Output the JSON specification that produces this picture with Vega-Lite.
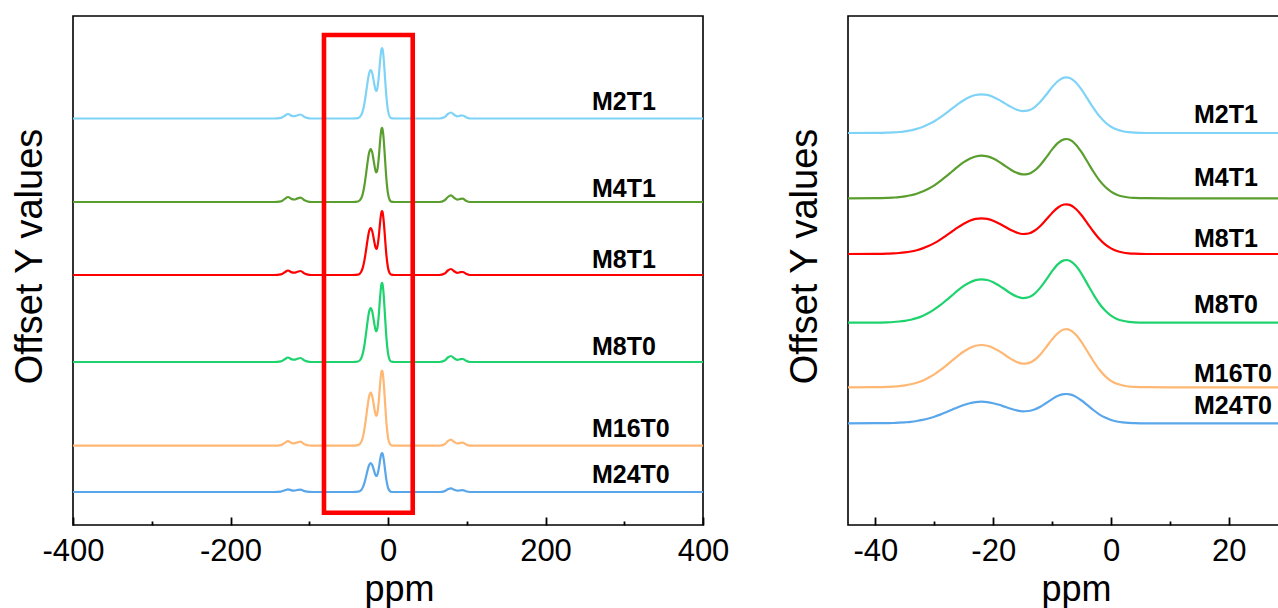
{
  "$schema": "https://vega.github.io/schema/vega-lite/v6.json",
  "background": "white",
  "padding": {"left": 10, "top": 15, "right": 0, "bottom": 0},
  "spacing": 145,
  "bounds": "flush",
  "config": {
    "font": "Liberation Sans",
    "view": {"stroke": "#000000", "strokeWidth": 1.6},
    "axis": {"labelColor": "#000000", "titleColor": "#000000", "tickColor": "#000000", "domain": false, "grid": false}
  },
  "datasets": {
    "left": [
      {"ppm": -400, "M2T1": 406.5, "M4T1": 323, "M8T1": 250, "M8T0": 163, "M16T0": 79.3, "M24T0": 33},
      {"ppm": -145, "M2T1": 406.5, "M4T1": 323, "M8T1": 250, "M8T0": 163, "M16T0": 79.3, "M24T0": 33},
      {"ppm": -136, "M2T1": 407.1, "M4T1": 323.7, "M8T1": 250.6, "M8T0": 163.6, "M16T0": 79.9, "M24T0": 33.4},
      {"ppm": -131, "M2T1": 409.3, "M4T1": 326.1, "M8T1": 252.8, "M8T0": 165.8, "M16T0": 82.1, "M24T0": 34.7},
      {"ppm": -127, "M2T1": 411, "M4T1": 328, "M8T1": 254.5, "M8T0": 167.5, "M16T0": 83.8, "M24T0": 35.7},
      {"ppm": -122, "M2T1": 409.1, "M4T1": 325.9, "M8T1": 252.6, "M8T0": 165.6, "M16T0": 81.9, "M24T0": 34.6},
      {"ppm": -119, "M2T1": 408.8, "M4T1": 325.5, "M8T1": 252.3, "M8T0": 165.3, "M16T0": 81.6, "M24T0": 34.4},
      {"ppm": -115, "M2T1": 409.8, "M4T1": 326.6, "M8T1": 253.3, "M8T0": 166.3, "M16T0": 82.6, "M24T0": 35},
      {"ppm": -111, "M2T1": 410.5, "M4T1": 327.4, "M8T1": 254, "M8T0": 167, "M16T0": 83.3, "M24T0": 35.4},
      {"ppm": -106, "M2T1": 408, "M4T1": 324.7, "M8T1": 251.5, "M8T0": 164.5, "M16T0": 80.8, "M24T0": 33.9},
      {"ppm": -100, "M2T1": 406.7, "M4T1": 323.2, "M8T1": 250.2, "M8T0": 163.2, "M16T0": 79.5, "M24T0": 33.1},
      {"ppm": -95, "M2T1": 406.5, "M4T1": 323, "M8T1": 250, "M8T0": 163, "M16T0": 79.3, "M24T0": 33},
      {"ppm": -45, "M2T1": 406.5, "M4T1": 323, "M8T1": 250, "M8T0": 163, "M16T0": 79.3, "M24T0": 33},
      {"ppm": -38, "M2T1": 406.9, "M4T1": 323.5, "M8T1": 250.4, "M8T0": 163.5, "M16T0": 79.8, "M24T0": 33.3},
      {"ppm": -34, "M2T1": 409.9, "M4T1": 326.7, "M8T1": 253.3, "M8T0": 166.8, "M16T0": 83, "M24T0": 35},
      {"ppm": -32, "M2T1": 414.1, "M4T1": 331.3, "M8T1": 257.4, "M8T0": 171.5, "M16T0": 87.6, "M24T0": 37.6},
      {"ppm": -30, "M2T1": 421.3, "M4T1": 339.2, "M8T1": 264.4, "M8T0": 179.5, "M16T0": 95.5, "M24T0": 41.9},
      {"ppm": -28, "M2T1": 431.4, "M4T1": 350.2, "M8T1": 274.2, "M8T0": 190.8, "M16T0": 106.5, "M24T0": 47.9},
      {"ppm": -26, "M2T1": 442.6, "M4T1": 362.4, "M8T1": 285, "M8T0": 203.2, "M16T0": 118.7, "M24T0": 54.6},
      {"ppm": -24, "M2T1": 451.6, "M4T1": 372.2, "M8T1": 293.7, "M8T0": 213.2, "M16T0": 128.5, "M24T0": 59.9},
      {"ppm": -22, "M2T1": 455, "M4T1": 376, "M8T1": 297, "M8T0": 217, "M16T0": 132.3, "M24T0": 62},
      {"ppm": -20, "M2T1": 451.7, "M4T1": 372.4, "M8T1": 293.8, "M8T0": 213.4, "M16T0": 128.7, "M24T0": 60},
      {"ppm": -18, "M2T1": 443.6, "M4T1": 363.5, "M8T1": 285.9, "M8T0": 204.3, "M16T0": 119.8, "M24T0": 55.1},
      {"ppm": -16, "M2T1": 435.7, "M4T1": 354.7, "M8T1": 278, "M8T0": 195.6, "M16T0": 111.1, "M24T0": 50.3},
      {"ppm": -15, "M2T1": 434, "M4T1": 352.7, "M8T1": 276.2, "M8T0": 193.7, "M16T0": 109.2, "M24T0": 49.1},
      {"ppm": -14, "M2T1": 435, "M4T1": 353.5, "M8T1": 276.7, "M8T0": 194.8, "M16T0": 110, "M24T0": 49.4},
      {"ppm": -12, "M2T1": 445.9, "M4T1": 364.8, "M8T1": 286.2, "M8T0": 207.2, "M16T0": 121.5, "M24T0": 55.1},
      {"ppm": -10, "M2T1": 464.5, "M4T1": 384.1, "M8T1": 302.8, "M8T0": 228.1, "M16T0": 141.2, "M24T0": 65.2},
      {"ppm": -9, "M2T1": 472.4, "M4T1": 392.3, "M8T1": 309.8, "M8T0": 236.9, "M16T0": 149.5, "M24T0": 69.5},
      {"ppm": -8, "M2T1": 476.6, "M4T1": 396.7, "M8T1": 313.6, "M8T0": 241.7, "M16T0": 154, "M24T0": 71.8},
      {"ppm": -7.5, "M2T1": 477, "M4T1": 397.1, "M8T1": 314, "M8T0": 242.1, "M16T0": 154.4, "M24T0": 72},
      {"ppm": -7, "M2T1": 476.1, "M4T1": 396.1, "M8T1": 313.1, "M8T0": 241.1, "M16T0": 153.4, "M24T0": 71.5},
      {"ppm": -6, "M2T1": 470.7, "M4T1": 390.4, "M8T1": 308.2, "M8T0": 235, "M16T0": 147.6, "M24T0": 68.5},
      {"ppm": -5, "M2T1": 461.4, "M4T1": 380.6, "M8T1": 299.7, "M8T0": 224.6, "M16T0": 137.7, "M24T0": 63.3},
      {"ppm": -4, "M2T1": 449.9, "M4T1": 368.6, "M8T1": 289.4, "M8T0": 211.7, "M16T0": 125.5, "M24T0": 57},
      {"ppm": -2, "M2T1": 428.1, "M4T1": 345.7, "M8T1": 269.6, "M8T0": 187.3, "M16T0": 102.3, "M24T0": 44.9},
      {"ppm": 0, "M2T1": 414.4, "M4T1": 331.3, "M8T1": 257.2, "M8T0": 171.9, "M16T0": 87.7, "M24T0": 37.4},
      {"ppm": 2, "M2T1": 408.6, "M4T1": 325.2, "M8T1": 251.9, "M8T0": 165.4, "M16T0": 81.6, "M24T0": 34.2},
      {"ppm": 4, "M2T1": 406.9, "M4T1": 323.4, "M8T1": 250.4, "M8T0": 163.5, "M16T0": 79.8, "M24T0": 33.2},
      {"ppm": 8, "M2T1": 406.5, "M4T1": 323, "M8T1": 250, "M8T0": 163, "M16T0": 79.3, "M24T0": 33},
      {"ppm": 65, "M2T1": 406.5, "M4T1": 323, "M8T1": 250, "M8T0": 163, "M16T0": 79.3, "M24T0": 33},
      {"ppm": 72, "M2T1": 408, "M4T1": 324.7, "M8T1": 251.5, "M8T0": 164.5, "M16T0": 80.8, "M24T0": 33.9},
      {"ppm": 76, "M2T1": 411, "M4T1": 328, "M8T1": 254.5, "M8T0": 167.5, "M16T0": 83.8, "M24T0": 35.7},
      {"ppm": 80, "M2T1": 412.5, "M4T1": 329.6, "M8T1": 256, "M8T0": 169, "M16T0": 85.3, "M24T0": 36.6},
      {"ppm": 84, "M2T1": 410.3, "M4T1": 327.2, "M8T1": 253.8, "M8T0": 166.8, "M16T0": 83.1, "M24T0": 35.3},
      {"ppm": 88, "M2T1": 408.7, "M4T1": 325.4, "M8T1": 252.2, "M8T0": 165.2, "M16T0": 81.5, "M24T0": 34.3},
      {"ppm": 92, "M2T1": 409.3, "M4T1": 326.1, "M8T1": 252.8, "M8T0": 165.8, "M16T0": 82.1, "M24T0": 34.7},
      {"ppm": 95, "M2T1": 409.5, "M4T1": 326.3, "M8T1": 253, "M8T0": 166, "M16T0": 82.3, "M24T0": 34.8},
      {"ppm": 99, "M2T1": 407.7, "M4T1": 324.3, "M8T1": 251.2, "M8T0": 164.2, "M16T0": 80.5, "M24T0": 33.7},
      {"ppm": 104, "M2T1": 406.5, "M4T1": 323, "M8T1": 250, "M8T0": 163, "M16T0": 79.3, "M24T0": 33},
      {"ppm": 400, "M2T1": 406.5, "M4T1": 323, "M8T1": 250, "M8T0": 163, "M16T0": 79.3, "M24T0": 33}
    ],
    "right": [
      {"ppm": -46, "M2T1": 392, "M4T1": 326.7, "M8T1": 271, "M8T0": 202.3, "M16T0": 137.7, "M24T0": 101.7},
      {"ppm": -40, "M2T1": 392.1, "M4T1": 326.8, "M8T1": 271.1, "M8T0": 202.4, "M16T0": 137.8, "M24T0": 101.8},
      {"ppm": -38, "M2T1": 392.3, "M4T1": 327.1, "M8T1": 271.3, "M8T0": 202.7, "M16T0": 138.1, "M24T0": 101.9},
      {"ppm": -37, "M2T1": 392.6, "M4T1": 327.4, "M8T1": 271.6, "M8T0": 203, "M16T0": 138.4, "M24T0": 102},
      {"ppm": -36, "M2T1": 393, "M4T1": 327.8, "M8T1": 272, "M8T0": 203.5, "M16T0": 138.8, "M24T0": 102.3},
      {"ppm": -35, "M2T1": 393.7, "M4T1": 328.6, "M8T1": 272.6, "M8T0": 204.2, "M16T0": 139.6, "M24T0": 102.7},
      {"ppm": -34, "M2T1": 394.7, "M4T1": 329.7, "M8T1": 273.5, "M8T0": 205.3, "M16T0": 140.7, "M24T0": 103.2},
      {"ppm": -33, "M2T1": 396.1, "M4T1": 331.3, "M8T1": 274.8, "M8T0": 206.9, "M16T0": 142.2, "M24T0": 104},
      {"ppm": -32, "M2T1": 398.1, "M4T1": 333.4, "M8T1": 276.6, "M8T0": 209.1, "M16T0": 144.3, "M24T0": 105.1},
      {"ppm": -31, "M2T1": 400.7, "M4T1": 336.2, "M8T1": 279, "M8T0": 212, "M16T0": 147.2, "M24T0": 106.5},
      {"ppm": -30, "M2T1": 403.8, "M4T1": 339.7, "M8T1": 281.9, "M8T0": 215.6, "M16T0": 150.6, "M24T0": 108.3},
      {"ppm": -29, "M2T1": 407.6, "M4T1": 343.9, "M8T1": 285.4, "M8T0": 219.8, "M16T0": 154.8, "M24T0": 110.4},
      {"ppm": -28, "M2T1": 411.9, "M4T1": 348.6, "M8T1": 289.4, "M8T0": 224.6, "M16T0": 159.4, "M24T0": 112.8},
      {"ppm": -27, "M2T1": 416.4, "M4T1": 353.5, "M8T1": 293.5, "M8T0": 229.6, "M16T0": 164.4, "M24T0": 115.3},
      {"ppm": -26, "M2T1": 420.8, "M4T1": 358.4, "M8T1": 297.6, "M8T0": 234.6, "M16T0": 169.2, "M24T0": 117.8},
      {"ppm": -25, "M2T1": 424.8, "M4T1": 362.8, "M8T1": 301.2, "M8T0": 239.1, "M16T0": 173.5, "M24T0": 120},
      {"ppm": -24, "M2T1": 428, "M4T1": 366.3, "M8T1": 304.2, "M8T0": 242.6, "M16T0": 177, "M24T0": 121.8},
      {"ppm": -23, "M2T1": 430, "M4T1": 368.5, "M8T1": 306.1, "M8T0": 244.9, "M16T0": 179.2, "M24T0": 122.9},
      {"ppm": -22, "M2T1": 430.7, "M4T1": 369.3, "M8T1": 306.7, "M8T0": 245.7, "M16T0": 180, "M24T0": 123.3},
      {"ppm": -21, "M2T1": 430.1, "M4T1": 368.6, "M8T1": 306.1, "M8T0": 245, "M16T0": 179.3, "M24T0": 122.9},
      {"ppm": -20, "M2T1": 428.1, "M4T1": 366.4, "M8T1": 304.3, "M8T0": 242.8, "M16T0": 177.1, "M24T0": 121.8},
      {"ppm": -19, "M2T1": 425.1, "M4T1": 363.1, "M8T1": 301.5, "M8T0": 239.4, "M16T0": 173.9, "M24T0": 120.2},
      {"ppm": -18, "M2T1": 421.6, "M4T1": 359.2, "M8T1": 298.3, "M8T0": 235.5, "M16T0": 170, "M24T0": 118.2},
      {"ppm": -17, "M2T1": 418.1, "M4T1": 355.3, "M8T1": 295, "M8T0": 231.5, "M16T0": 166.1, "M24T0": 116.2},
      {"ppm": -16, "M2T1": 415.3, "M4T1": 352.2, "M8T1": 292.4, "M8T0": 228.4, "M16T0": 163, "M24T0": 114.6},
      {"ppm": -15, "M2T1": 413.9, "M4T1": 350.6, "M8T1": 291, "M8T0": 226.9, "M16T0": 161.3, "M24T0": 113.7},
      {"ppm": -14, "M2T1": 414.6, "M4T1": 351.2, "M8T1": 291.5, "M8T0": 227.7, "M16T0": 161.9, "M24T0": 114},
      {"ppm": -13, "M2T1": 417.7, "M4T1": 354.4, "M8T1": 294.2, "M8T0": 231.2, "M16T0": 165, "M24T0": 115.5},
      {"ppm": -12, "M2T1": 423.2, "M4T1": 360.1, "M8T1": 299, "M8T0": 237.4, "M16T0": 170.5, "M24T0": 118.3},
      {"ppm": -11, "M2T1": 430.3, "M4T1": 367.6, "M8T1": 305.4, "M8T0": 245.4, "M16T0": 177.9, "M24T0": 122},
      {"ppm": -10, "M2T1": 437.9, "M4T1": 375.6, "M8T1": 312, "M8T0": 253.9, "M16T0": 185.6, "M24T0": 125.9},
      {"ppm": -9, "M2T1": 444, "M4T1": 382.1, "M8T1": 317.5, "M8T0": 260.9, "M16T0": 192, "M24T0": 129.2},
      {"ppm": -8, "M2T1": 447.4, "M4T1": 385.7, "M8T1": 320.5, "M8T0": 264.6, "M16T0": 195.5, "M24T0": 130.9},
      {"ppm": -7.5, "M2T1": 447.7, "M4T1": 386, "M8T1": 320.7, "M8T0": 265, "M16T0": 195.8, "M24T0": 131},
      {"ppm": -7, "M2T1": 447, "M4T1": 385.2, "M8T1": 320.1, "M8T0": 264.2, "M16T0": 195, "M24T0": 130.7},
      {"ppm": -6, "M2T1": 442.7, "M4T1": 380.6, "M8T1": 316.2, "M8T0": 259.4, "M16T0": 190.5, "M24T0": 128.4},
      {"ppm": -5, "M2T1": 435.3, "M4T1": 372.8, "M8T1": 309.7, "M8T0": 251.1, "M16T0": 182.9, "M24T0": 124.5},
      {"ppm": -4, "M2T1": 426.3, "M4T1": 363.2, "M8T1": 301.6, "M8T0": 240.9, "M16T0": 173.5, "M24T0": 119.8},
      {"ppm": -3, "M2T1": 417.2, "M4T1": 353.5, "M8T1": 293.5, "M8T0": 230.7, "M16T0": 164, "M24T0": 115},
      {"ppm": -2, "M2T1": 409.1, "M4T1": 344.9, "M8T1": 286.2, "M8T0": 221.5, "M16T0": 155.5, "M24T0": 110.7},
      {"ppm": -1, "M2T1": 402.8, "M4T1": 338.2, "M8T1": 280.6, "M8T0": 214.4, "M16T0": 148.9, "M24T0": 107.4},
      {"ppm": 0, "M2T1": 398.3, "M4T1": 333.4, "M8T1": 276.6, "M8T0": 209.4, "M16T0": 144.2, "M24T0": 105},
      {"ppm": 1, "M2T1": 395.4, "M4T1": 330.3, "M8T1": 274, "M8T0": 206.1, "M16T0": 141.2, "M24T0": 103.5},
      {"ppm": 2, "M2T1": 393.7, "M4T1": 328.5, "M8T1": 272.5, "M8T0": 204.2, "M16T0": 139.5, "M24T0": 102.6},
      {"ppm": 3, "M2T1": 392.8, "M4T1": 327.5, "M8T1": 271.7, "M8T0": 203.2, "M16T0": 138.5, "M24T0": 102.1},
      {"ppm": 4, "M2T1": 392.3, "M4T1": 327.1, "M8T1": 271.3, "M8T0": 202.7, "M16T0": 138.1, "M24T0": 101.9},
      {"ppm": 6, "M2T1": 392, "M4T1": 326.8, "M8T1": 271, "M8T0": 202.4, "M16T0": 137.8, "M24T0": 101.7},
      {"ppm": 10, "M2T1": 392, "M4T1": 326.7, "M8T1": 271, "M8T0": 202.3, "M16T0": 137.7, "M24T0": 101.7},
      {"ppm": 36, "M2T1": 392, "M4T1": 326.7, "M8T1": 271, "M8T0": 202.3, "M16T0": 137.7, "M24T0": 101.7}
    ],
    "labelsLeft": [
      {"label": "M2T1", "ppm": 259, "value": 415},
      {"label": "M4T1", "ppm": 259, "value": 328.3},
      {"label": "M8T1", "ppm": 259, "value": 257},
      {"label": "M8T0", "ppm": 259, "value": 170},
      {"label": "M16T0", "ppm": 259, "value": 88.3},
      {"label": "M24T0", "ppm": 259, "value": 41.7}
    ],
    "labelsRight": [
      {"label": "M2T1", "ppm": 14.1, "value": 402},
      {"label": "M4T1", "ppm": 14.1, "value": 339},
      {"label": "M8T1", "ppm": 14.1, "value": 278},
      {"label": "M8T0", "ppm": 14.1, "value": 212},
      {"label": "M16T0", "ppm": 14.1, "value": 143.3},
      {"label": "M24T0", "ppm": 14.1, "value": 110.7}
    ],
    "box": [
      {"ppm": -81.3, "ppm2": 31.4, "value": 12.2, "value2": 490}
    ]
  },
  "hconcat": [
    {
      "width": 630,
      "height": 509,
      "encoding": {
        "x": {"field": "ppm", "type": "quantitative", "title": "ppm",
          "scale": {"domain": [-400, 400], "nice": false, "zero": false},
          "axis": {"values": [-400, -300, -200, -100, 0, 100, 200, 300, 400],
            "tickSize": {"condition": {"test": "datum.value % 200 === 0", "value": -8}, "value": -4},
            "tickWidth": 1.8,
            "labelExpr": "datum.value % 200 === 0 ? toString(datum.value) : ''",
            "labelFontSize": 31, "labelPadding": 19, "labelFlush": false, "labelOverlap": false, "labelBound": false,
            "titleFontSize": 36, "titleFontWeight": "normal", "titlePadding": 2, "titleX": 326}},
        "y": {"field": "value", "type": "quantitative", "title": "Offset Y values",
          "scale": {"domain": [0, 509], "nice": false, "zero": false},
          "axis": {"labels": false, "ticks": false, "domain": false, "titleFontSize": 38, "titleFontWeight": "normal", "titlePadding": 24, "titleY": 240}}
      },
      "layer": [
        {
          "data": {"name": "left"},
          "transform": [{"fold": ["M2T1", "M4T1", "M8T1", "M8T0", "M16T0", "M24T0"], "as": ["series", "value"]}],
          "mark": {"type": "line", "strokeWidth": 2.2, "interpolate": "monotone", "clip": true},
          "encoding": {
            "color": {"field": "series", "type": "nominal",
              "scale": {"domain": ["M2T1", "M4T1", "M8T1", "M8T0", "M16T0", "M24T0"], "range": ["#7fd3f7", "#5a9e2f", "#ff0000", "#1ed36e", "#ffb774", "#5aa6ea"]},
              "legend": null}
          }
        },
        {
          "data": {"name": "box"},
          "mark": {"type": "rect", "filled": false, "stroke": "#ff0000", "strokeWidth": 4.6},
          "encoding": {
            "x2": {"field": "ppm2"},
            "y2": {"field": "value2"}
          }
        },
        {
          "data": {"name": "labelsLeft"},
          "mark": {"type": "text", "align": "left", "baseline": "alphabetic", "fontSize": 25, "fontWeight": "bold", "color": "#000000"},
          "encoding": {
            "text": {"field": "label"}
          }
        }
      ]
    },
    {
      "width": 460,
      "height": 509,
      "encoding": {
        "x": {"field": "ppm", "type": "quantitative", "title": "ppm",
          "scale": {"domain": [-44.66, 33.45], "nice": false, "zero": false},
          "axis": {"values": [-40, -30, -20, -10, 0, 10, 20, 30],
            "tickSize": {"condition": {"test": "datum.value % 20 === 0", "value": -8}, "value": -4},
            "tickWidth": 1.8,
            "labelExpr": "datum.value % 20 === 0 ? toString(datum.value) : ''",
            "labelFontSize": 31, "labelPadding": 19, "labelFlush": false, "labelOverlap": false, "labelBound": false,
            "titleFontSize": 36, "titleFontWeight": "normal", "titlePadding": 2, "titleX": 228}},
        "y": {"field": "value", "type": "quantitative", "title": "Offset Y values",
          "scale": {"domain": [0, 509], "nice": false, "zero": false},
          "axis": {"labels": false, "ticks": false, "domain": false, "titleFontSize": 38, "titleFontWeight": "normal", "titlePadding": 24, "titleY": 240}}
      },
      "layer": [
        {
          "data": {"name": "right"},
          "transform": [{"fold": ["M2T1", "M4T1", "M8T1", "M8T0", "M16T0", "M24T0"], "as": ["series", "value"]}],
          "mark": {"type": "line", "strokeWidth": 2.2, "interpolate": "monotone", "clip": true},
          "encoding": {
            "color": {"field": "series", "type": "nominal",
              "scale": {"domain": ["M2T1", "M4T1", "M8T1", "M8T0", "M16T0", "M24T0"], "range": ["#7fd3f7", "#5a9e2f", "#ff0000", "#1ed36e", "#ffb774", "#5aa6ea"]},
              "legend": null}
          }
        },
        {
          "data": {"name": "labelsRight"},
          "mark": {"type": "text", "align": "left", "baseline": "alphabetic", "fontSize": 25, "fontWeight": "bold", "color": "#000000"},
          "encoding": {
            "text": {"field": "label"}
          }
        }
      ]
    }
  ]
}
